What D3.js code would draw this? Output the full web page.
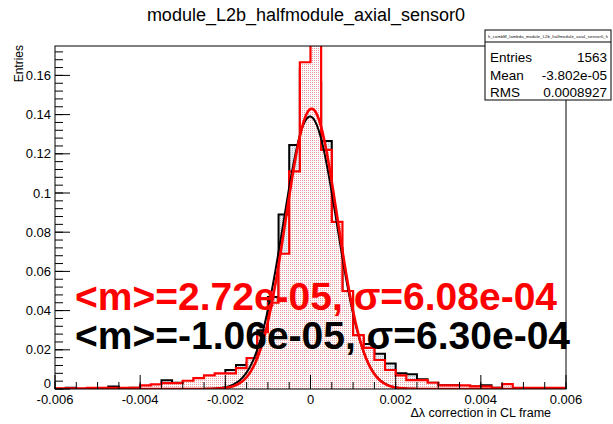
<!DOCTYPE html>
<html><head><meta charset="utf-8">
<script src="https://cdn.jsdelivr.net/npm/d3@7"></script>
<style>body{margin:0;background:#fff}svg{display:block;font-family:"Liberation Sans",Arial,sans-serif}</style>
</head><body><svg id="c" width="613" height="424"></svg>
<script>
const binLow = -0.006, binWidth = 0.00025;
const blackHist = [0,0.0006,0,0,0,0.0013,0,0.0006,0.0013,0.0019,0.0045,0.0032,0.0038,0.0045,0.0051,0.0058,
  0.0097,0.0122,0.0135,0.030,0.047,0.089,0.1245,0.163,0.1565,0.1265,0.072,0.049,0.026,0.023,0.018,0.013,
  0.008,0.0075,0.005,0.0032,0.0019,0.0019,0.0013,0.0013,0.0019,0.0006,0.0006,0,0,0,0,0];
const redHist = [0.0003,0.0003,0.0003,0.0006,0.0006,0.0006,0.0006,0.0006,0.0018,0.0024,0.003,0.003,0.0042,0.0055,0.0070,0.0080,
  0.0080,0.0107,0.0158,0.029,0.044,0.069,0.111,0.1667,0.19,0.122,0.0853,0.050,0.0275,0.021,0.0148,0.0097,
  0.007,0.0045,0.0045,0.0032,0.0019,0.0019,0.0019,0.0013,0.0013,0.0006,0.0025,0.0006,0.0006,0.0006,0.0006,0.0006];
const blackFit = {amp:0.139, mean:-1.06e-5, sigma:6.30e-4};
const redFit = {amp:0.143, mean:2.72e-5, sigma:6.08e-4};
const xTicks = [-0.006,-0.004,-0.002,0,0.002,0.004,0.006];
const xTickLabels = ["-0.006","-0.004","-0.002","0","0.002","0.004","0.006"];
const yTicks = [0,0.02,0.04,0.06,0.08,0.1,0.12,0.14,0.16];
const yTickLabels = ["0","0.02","0.04","0.06","0.08","0.1","0.12","0.14","0.16"];
const statsRows = [["Entries","1563"],["Mean","-3.802e-05"],["RMS","0.0008927"]];
const title = "module_L2b_halfmodule_axial_sensor0";
const statsName = "h_combM_lambda_module_L2b_halfmodule_axial_sensor0_h";
const redLabel = "<m>=2.72e-05, \u03c3=6.08e-04";
const blackLabel = "<m>=-1.06e-05, \u03c3=6.30e-04";

const L=55,R=566,T=46,B=389;
const svg = d3.select("#c");
const x = d3.scaleLinear().domain([-0.006,0.006]).range([L,R]);
const y = d3.scaleLinear().domain([0,0.175]).range([B,T]);

const defs = svg.append("defs");
defs.append("clipPath").attr("id","clip").append("rect").attr("x",L).attr("y",T).attr("width",R-L).attr("height",B-T);
const pr = defs.append("pattern").attr("id","pred").attr("width",2).attr("height",2).attr("patternUnits","userSpaceOnUse");
pr.append("rect").attr("width",2).attr("height",2).attr("fill","#ffffff");
pr.append("rect").attr("width",1).attr("height",1).attr("fill","#ec9c9c");
const pb = defs.append("pattern").attr("id","pblk").attr("width",2).attr("height",2).attr("patternUnits","userSpaceOnUse");
pb.append("rect").attr("width",2).attr("height",2).attr("fill","#e8eef3");
pb.append("rect").attr("width",1).attr("height",1).attr("fill","#b4bec8");

function histPts(vals){
  const pts=[[x(binLow),y(0)]];
  vals.forEach((v,i)=>{const lo=binLow+i*binWidth;pts.push([x(lo),y(v)]);pts.push([x(lo+binWidth),y(v)]);});
  pts.push([x(binLow+vals.length*binWidth),y(0)]);
  return pts;
}
const line = d3.line();
const g = svg.append("g").attr("clip-path","url(#clip)");
g.append("path").attr("d",line(histPts(blackHist))).attr("fill","url(#pblk)").attr("stroke","#000").attr("stroke-width",2);
g.append("path").attr("d",line(histPts(redHist))).attr("fill","url(#pred)").attr("stroke","#ff0000").attr("stroke-width",2.2);
function gaus(f){return d3.range(0,601).map(k=>{const xv=-0.006+k*0.00002;return [x(xv),y(f.amp*Math.exp(-0.5*Math.pow((xv-f.mean)/f.sigma,2)))];});}
g.append("path").attr("d",line(gaus(blackFit))).attr("fill","none").attr("stroke","#000").attr("stroke-width",2);
g.append("path").attr("d",line(gaus(redFit))).attr("fill","none").attr("stroke","#ff0000").attr("stroke-width",2.6);

// frame
svg.append("rect").attr("x",L).attr("y",T).attr("width",R-L).attr("height",B-T).attr("fill","none").attr("stroke","#000").attr("stroke-width",1);

// x ticks
const xMinor = d3.range(-0.006,0.00601,0.0005);
svg.selectAll(".xm").data(xMinor).enter().append("line").attr("x1",d=>x(d)).attr("x2",d=>x(d)).attr("y1",B).attr("y2",B-7).attr("stroke","#000");
svg.selectAll(".xM").data(xTicks).enter().append("line").attr("x1",d=>x(d)).attr("x2",d=>x(d)).attr("y1",B).attr("y2",B-14).attr("stroke","#000");
svg.selectAll(".xl").data(xTicks).enter().append("text").attr("x",d=>x(d)).attr("y",404).attr("text-anchor","middle").attr("font-size",13).text((d,i)=>xTickLabels[i]);
// y ticks
const yMinor = d3.range(0,0.1751,0.004);
svg.selectAll(".ym").data(yMinor).enter().append("line").attr("x1",L).attr("x2",L+8).attr("y1",d=>y(d)).attr("y2",d=>y(d)).attr("stroke","#000");
svg.selectAll(".yM").data(yTicks).enter().append("line").attr("x1",L).attr("x2",L+15).attr("y1",d=>y(d)).attr("y2",d=>y(d)).attr("stroke","#000");
svg.selectAll(".yl").data(yTicks).enter().append("text").attr("x",51).attr("y",d=>y(d)+4.5).attr("text-anchor","end").attr("font-size",13).text((d,i)=>yTickLabels[i]).attr("dy",(d,i)=>i===0?-6:0);

svg.append("text").attr("transform","translate(23,45) rotate(-90)").attr("text-anchor","end").attr("font-size",12).text("Entries");
svg.append("text").attr("x",551).attr("y",417).attr("text-anchor","end").attr("font-size",12.5).text("\u0394\u03bb correction in CL frame");
svg.append("text").attr("x",306).attr("y",21).attr("text-anchor","middle").attr("font-size",18).text(title);

// stats box
const sb={x:485,y:30,w:126,h:70};
svg.append("rect").attr("x",sb.x).attr("y",sb.y).attr("width",sb.w).attr("height",sb.h).attr("fill","#fff").attr("stroke","#000");
svg.append("line").attr("x1",sb.x).attr("x2",sb.x+sb.w).attr("y1",sb.y+12).attr("y2",sb.y+12).attr("stroke","#000");
svg.append("text").attr("x",sb.x+sb.w/2).attr("y",sb.y+8).attr("text-anchor","middle").attr("font-size",4).attr("textLength",120).text(statsName);
statsRows.forEach((r,i)=>{
  svg.append("text").attr("x",sb.x+5).attr("y",sb.y+32+i*17.5).attr("font-size",13.5).text(r[0]);
  svg.append("text").attr("x",sb.x+sb.w-4).attr("y",sb.y+32+i*17.5).attr("text-anchor","end").attr("font-size",13.5).text(r[1]);
});

svg.append("text").attr("x",75).attr("y",310).attr("font-size",39).attr("font-weight","bold").attr("fill","#ff0000").text(redLabel);
svg.append("text").attr("x",75).attr("y",349).attr("font-size",39).attr("font-weight","bold").attr("fill","#000").text(blackLabel);
</script></body></html>
